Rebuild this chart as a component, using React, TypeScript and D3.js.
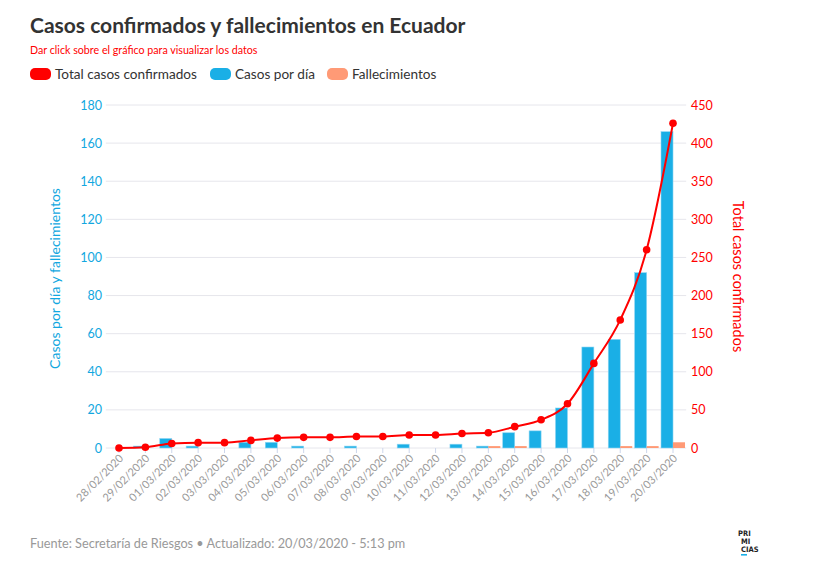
import React from "react";
import * as d3 from "d3";

const dates = ["28/02/2020","29/02/2020","01/03/2020","02/03/2020","03/03/2020","04/03/2020","05/03/2020","06/03/2020","07/03/2020","08/03/2020","09/03/2020","10/03/2020","11/03/2020","12/03/2020","13/03/2020","14/03/2020","15/03/2020","16/03/2020","17/03/2020","18/03/2020","19/03/2020","20/03/2020"];
const casosPorDia = [0,1,5,1,0,3,3,1,0,1,0,2,0,2,1,8,9,21,53,57,92,166];
const fallecimientos = [0,0,0,0,0,0,0,0,0,0,0,0,0,0,1,1,0,0,0,1,1,3];
const totalCasos = [0,1,6,7,7,10,13,14,14,15,15,17,17,19,20,28,37,58,111,168,260,426];
const leftTicks = [0,20,40,60,80,100,120,140,160,180];
const rightTicks = [0,50,100,150,200,250,300,350,400,450];

const RED = "#ff0000";
const BLUE = "#1aafe6";
const BLUE_TXT = "#12a7e0";
const ORANGE = "#ff9a76";
const FONT = "Lato, 'Source Sans Pro', 'Noto Sans', sans-serif";

export default function App() {
  const W = 818, H = 576;
  const left = 105.8, right = 686.2, top = 105, bottom = 448;
  const x = d3.scaleBand<string>().domain(dates).range([left, right]).paddingInner(0).paddingOuter(0);
  const step = x.bandwidth();
  const cx = (d: string) => (x(d) as number) + step / 2;
  const yL = d3.scaleLinear().domain([0, 180]).range([bottom, top]);
  const yR = d3.scaleLinear().domain([0, 450]).range([bottom, top]);
  const barW = 12;
  const line = d3.line<number>()
    .x((_, i) => cx(dates[i]))
    .y((v) => yR(v))
    .curve(d3.curveMonotoneX);

  const legend = [
    { label: "Total casos confirmados", color: RED, x: 30 },
    { label: "Casos por día", color: BLUE, x: 210 },
    { label: "Fallecimientos", color: ORANGE, x: 327 },
  ];

  return (
    <svg width={W} height={H} style={{ position: "absolute", left: 0, top: 0, background: "#fff" }} fontFamily={FONT}>
      <text x={30} y={33} fontSize={21} fontWeight={700} fill="#333">Casos confirmados y fallecimientos en Ecuador</text>
      <text x={30} y={54} fontSize={10.7} fill={RED}>Dar click sobre el gráfico para visualizar los datos</text>
      {legend.map((l) => (
        <g key={l.label}>
          <rect x={l.x} y={68} width={21} height={12} rx={5} fill={l.color} />
          <text x={l.x + 25} y={79} fontSize={13.6} fill="#333">{l.label}</text>
        </g>
      ))}
      {leftTicks.map((t) => (
        <line key={"g" + t} x1={left} x2={right} y1={yL(t)} y2={yL(t)} stroke="#e6e6ec" strokeWidth={1} />
      ))}
      {leftTicks.map((t) => (
        <text key={"l" + t} x={102} y={yL(t) + 4.5} fontSize={12.5} textAnchor="end" fill={BLUE_TXT}>{t}</text>
      ))}
      {rightTicks.map((t) => (
        <text key={"r" + t} x={691} y={yR(t) + 4.5} fontSize={12.5} textAnchor="start" fill={RED}>{t}</text>
      ))}
      <text transform={`translate(60,${(top + bottom) / 2 + 2}) rotate(-90)`} textAnchor="middle" fontSize={14} fill={BLUE_TXT}>Casos por día y fallecimientos</text>
      <text transform={`translate(733,${(top + bottom) / 2}) rotate(90)`} textAnchor="middle" fontSize={14.5} fill={RED}>Total casos confirmados</text>
      {dates.map((d) => (
        <line key={"t" + d} x1={cx(d)} x2={cx(d)} y1={bottom} y2={bottom + 5} stroke="#ccd6eb" />
      ))}
      {dates.map((d, i) => (
        <rect key={"b" + d} x={cx(d) - barW} y={yL(casosPorDia[i])} width={barW} height={bottom - yL(casosPorDia[i])} fill={BLUE} stroke="#8fd6f3" strokeWidth={0.6} />
      ))}
      {dates.map((d, i) => (
        <rect key={"f" + d} x={cx(d)} y={yL(fallecimientos[i])} width={barW} height={bottom - yL(fallecimientos[i])} fill={ORANGE} />
      ))}
      <path d={line(totalCasos) as string} fill="none" stroke={RED} strokeWidth={2} />
      {dates.map((d, i) => (
        <circle key={"c" + d} cx={cx(d)} cy={yR(totalCasos[i])} r={3.8} fill={RED} />
      ))}
      {dates.map((d) => (
        <text key={"x" + d} transform={`translate(${cx(d) + 5},${bottom + 11}) rotate(-45)`} textAnchor="end" fontSize={11} fill="#999">{d}</text>
      ))}
      <text x={30} y={548} fontSize={12.7} fill="#999">Fuente: Secretaría de Riesgos • Actualizado: 20/03/2020 - 5:13 pm</text>
      <g fontFamily="'DejaVu Sans Condensed', 'Liberation Sans Narrow', sans-serif" fontWeight={700} fontSize={7.5} fill="#222">
        <text x={738} y={536}>PRI</text>
        <text x={741} y={544}>MI</text>
        <text x={741} y={552}>CIAS</text>
      </g>
      <rect x={741} y={554} width={6} height={1.6} fill={BLUE} />
    </svg>
  );
}
